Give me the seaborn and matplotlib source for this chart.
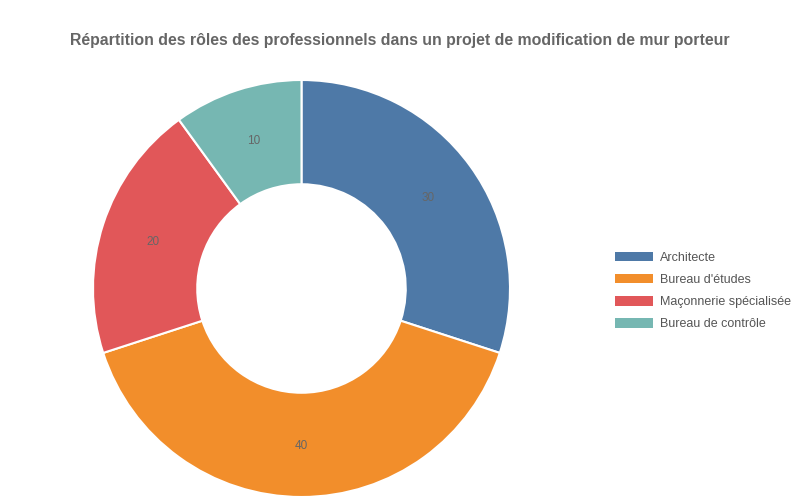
import matplotlib
matplotlib.use("Agg")
import matplotlib.pyplot as plt
import matplotlib.patches as mpatches
import seaborn as sns

# data
roles = ["Architecte", "Bureau d'études", "Maçonnerie spécialisée", "Bureau de contrôle"]
shares = [30, 40, 20, 10]
colors = ["#4e79a7", "#f28e2b", "#e15759", "#76b7b2"]

sns.set_theme(style="white")
plt.rcParams['font.family'] = ['Liberation Sans', 'DejaVu Sans']

fig = plt.figure(figsize=(8, 5), dpi=100)
ax = fig.add_axes([93 / 800, 3 / 500, 417 / 800, 417 / 500])

wedges, texts = ax.pie(
    shares,
    colors=colors,
    startangle=90,
    counterclock=False,
    radius=1,
    labels=[str(v) for v in shares],
    labeldistance=0.75,
    wedgeprops=dict(width=0.5, edgecolor="white", linewidth=1.5),
    textprops=dict(color="#666666", fontsize=8.5),
)
for t in texts:
    t.set_horizontalalignment("center")
    t.set_verticalalignment("center_baseline")
ax.set_xlim(-1, 1)
ax.set_ylim(-1, 1)
ax.set_aspect("equal")
ax.axis("off")

fig.text(0.5, 1 - 40 / 500, "Répartition des rôles des professionnels dans un projet de modification de mur porteur",
         ha="center", va="center", fontsize=11.4, fontweight="bold", color="#666666")

handles = [mpatches.Patch(facecolor=c, edgecolor="none") for c in colors]
fig.legend(handles, roles, loc="center left", bbox_to_anchor=(604 / 800, 1 - 291 / 500),
           frameon=False, fontsize=9, labelcolor="#555555",
           handlelength=3.0, handleheight=0.8, handletextpad=0.55, labelspacing=0.8)

fig.savefig("out.png", dpi=100)
